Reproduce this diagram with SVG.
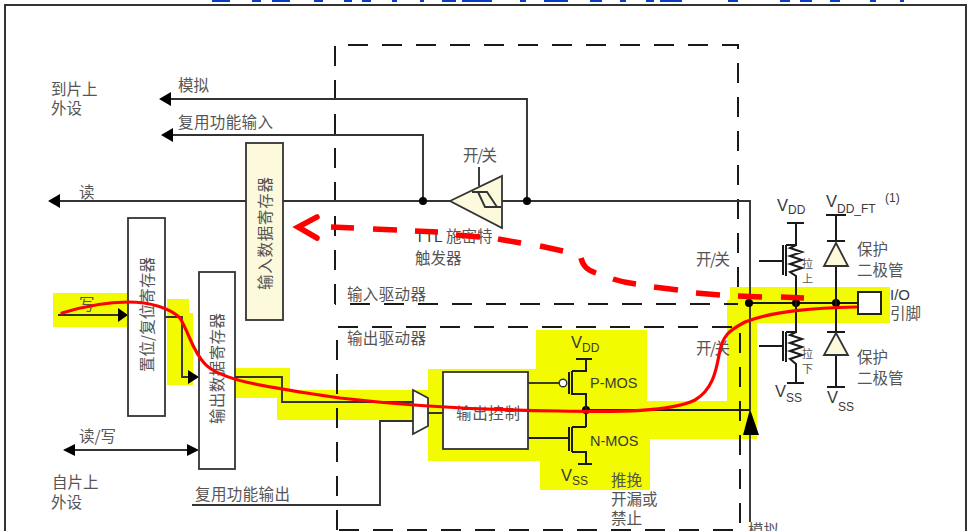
<svg xmlns="http://www.w3.org/2000/svg" width="969" height="531" viewBox="0 0 969 531">
<style>
text{font-family:"Noto Sans CJK SC","Liberation Sans",sans-serif;font-size:15.5px;fill:#555}
.en{font-family:"Liberation Sans",Arial,sans-serif;fill:#3a3a3a}
.v{font-size:16.5px}.s{font-size:12px}
.w{fill:none;stroke:#333;stroke-width:1.9}
.k{fill:none;stroke:#1a1a1a;stroke-width:2}
.d{fill:none;stroke:#1a1a1a;stroke-width:2;stroke-dasharray:20 14}
.box{fill:#fff;stroke:#333;stroke-width:1.8}
.cream{fill:#fdf9dc;stroke:#333;stroke-width:1.8}
.a{fill:#000}
.red{fill:none;stroke:#f00;stroke-width:3.2;stroke-linecap:round}
.dash{fill:none;stroke:#f00;stroke-width:5.5}
</style>
<rect width="969" height="531" fill="#fff"/>
<path transform="scale(1,2)" d="M212,0h18v1h-18zM252,0h9v1h-9zM272,0h18v1h-18zM314,0h9v1h-9zM344,0h8v1h-8zM362,0h9v1h-9zM392,0h5v1h-5zM420,0h4v1h-4zM442,0h14v1h-14zM462,0h30v1h-30zM520,0h6v1h-6zM544,0h24v1h-24zM590,0h12v1h-12zM620,0h6v1h-6zM646,0h8v1h-8zM660,0h22v1h-22zM728,0h10v1h-10zM780,0h10v1h-10zM800,0h12v1h-12zM830,0h10v1h-10zM870,0h6v1h-6zM900,0h4v1h-4z" fill="#0a3cc8"/>
<path id="frame" d="M5,535V5H966V535" fill="none" stroke="#333" stroke-width="2"/>
<g id="highlight" fill="#f2fb00">
<path d="M53,293H127V327H53Z"/>
<path d="M167,299H189V313H193V385H167Z"/>
<path d="M236,368H290V390H428V369H536V330H647V401H727V300H730V287H890V323H757V439H650V490H540V461H428V420H277V398H236Z"/>
</g>
<g id="drivers">
<path class="d" d="M335,304V45H738V290"/>
<path class="d" d="M738,304H335" stroke-dashoffset="6"/>
<path class="d" d="M337,530V327H740V530H337"/>
</g>
<g id="connectors">
<path class="w" d="M170,99H527V201"/>
<path class="w" d="M172,135H423V201"/>
<path class="w" d="M60,201H246M283,201H450M502,201H750V410"/>
<path class="k" d="M586,410H750"/>
<path class="w" d="M750,430V522"/>
<path class="k" d="M749,303H858"/>
<path class="w" d="M58,315H120M165,317H182V377H190M235,377H282V402H413M192,505H380V421H413M428,413H443"/>
<path class="w" d="M70,450H190"/>
<path class="w" d="M528,383H560"/>
<path class="k" d="M528,438H568"/>
<path class="a" d="M48,201L60,194V208ZM159,99L171,92V106ZM161,135L173,128V142ZM128,315L118,308V322ZM199,377L188,370V384ZM63,450L75,444V456ZM199,450L187,444V456ZM750,409L759,435H743Z"/>
<circle class="a" cx="423" cy="201" r="4"/>
<circle class="a" cx="527" cy="201" r="4"/>
<circle class="a" cx="586" cy="410" r="4"/>
<circle class="a" cx="749" cy="303" r="4"/>
<circle class="a" cx="796" cy="303" r="4"/>
<circle class="a" cx="836" cy="303" r="4"/>
</g>
<g id="input-data-register">
<rect class="cream" x="246" y="143" width="37" height="177"/>
<text transform="translate(271,290) rotate(-90)" textLength="113">输入数据寄存器</text>
</g>
<g id="set-reset-register">
<rect class="box" x="128" y="218" width="37" height="198"/>
<text transform="translate(153,372) rotate(-90)" textLength="115">置位/复位寄存器</text>
</g>
<g id="output-data-register">
<rect class="box" x="199" y="272" width="36" height="197"/>
<text transform="translate(223,424) rotate(-90)" textLength="111">输出数据寄存器</text>
</g>
<g id="schmitt">
<path class="w" d="M479,167V186"/>
<path class="cream" d="M450,201L502,176V228Z"/>
<path class="w" d="M472,192H487L497,207H485L478,192M497,207H501"/>
<text x="463" y="161" textLength="34">开/关</text>
<text x="415" y="242"><tspan class="en">TTL</tspan> 施密特<tspan x="415" dy="22">触发器</tspan></text>
</g>
<g id="mux"><path class="box" d="M413,390L428,398V426L413,434Z"/></g>
<g id="output-control">
<rect class="box" x="443" y="372" width="85" height="77"/>
<text x="456" y="419" textLength="64">输出控制</text>
</g>
<g id="p-mos">
<circle cx="563" cy="383" r="3.8" fill="#fff" stroke="#333" stroke-width="1.4"/>
<path class="k" d="M569,372V394M572,371V395M572,371H586V359M576,359H592M572,394H586V427"/>
</g>
<g id="n-mos">
<path class="k" d="M569,427V451M572,427V452M572,427H586M572,452H586V464M578,464H592"/>
</g>
<g id="pull-up">
<path class="k" d="M787,223H804M796,223V245H786M786,245V276M783,245V275M759,261H783"/>
<path class="k" d="M796,245L790,248L802,252L790,256L802,260L790,264L802,268L790,272L796,276V303"/>
</g>
<g id="pull-down">
<path class="k" d="M796,303V332H786M786,332V362M783,331V361M759,346H783"/>
<path class="k" d="M796,332L790,335L802,339L790,343L802,347L790,351L802,355L790,359L796,364V383M787,383H804"/>
</g>
<g id="diode-top">
<path class="k" d="M826,215H846M836,215V241M827,241H845M836,266V303"/>
<path class="cream" d="M836,243L848,266H824Z"/>
</g>
<g id="diode-bottom">
<path class="k" d="M836,303V332M827,332H845M836,355V387M827,387H845"/>
<path class="cream" d="M836,333L848,355H824Z"/>
</g>
<g id="pin"><rect x="858" y="292" width="23" height="22" fill="#fff" stroke="#222" stroke-width="2"/></g>
<g id="labels">
<text x="51" y="95">到片上<tspan x="51" dy="19">外设</tspan></text>
<text x="178" y="91">模拟</text>
<text x="178" y="128" textLength="95">复用功能输入</text>
<text x="79" y="198">读</text>
<text x="79" y="310">写</text>
<text x="79" y="442">读/写</text>
<text x="52" y="488">自片上<tspan x="51" dy="20">外设</tspan></text>
<text x="195" y="500" textLength="95">复用功能输出</text>
<text x="347" y="300" textLength="79">输入驱动器</text>
<text x="347" y="344" textLength="79">输出驱动器</text>
<text x="696" y="265" textLength="34">开/关</text>
<text x="696" y="354" textLength="34">开/关</text>
<text x="802" y="268" style="font-size:11px">拉<tspan x="802" dy="15">上</tspan></text>
<text x="802" y="358" style="font-size:11px">拉<tspan x="802" dy="15">下</tspan></text>
<text x="857" y="255">保护<tspan x="857" dy="21">二极管</tspan></text>
<text x="857" y="363">保护<tspan x="857" dy="21">二极管</tspan></text>
<text class="en" x="890" y="300" style="font-size:15px">I/O</text>
<text x="890" y="319">引脚</text>
<text class="en v" x="777" y="211">V</text><text class="en s" x="788" y="214">DD</text>
<text class="en v" x="826" y="207">V</text><text class="en s" x="837" y="213">DD_FT</text><text class="en s" x="885" y="202">(1)</text>
<text class="en v" x="775" y="397">V</text><text class="en s" x="786" y="402">SS</text>
<text class="en v" x="827" y="403">V</text><text class="en s" x="838" y="411">SS</text>
<text class="en v" x="571" y="348">V</text><text class="en s" x="582" y="352">DD</text>
<text class="en v" x="561" y="481">V</text><text class="en s" x="572" y="485">SS</text>
<text class="en" x="590" y="388" style="font-size:14.5px">P-MOS</text>
<text class="en" x="590" y="446" style="font-size:14.5px">N-MOS</text>
<text x="611" y="486">推挽<tspan x="611" dy="19">开漏或</tspan><tspan x="611" dy="19">禁止</tspan></text>
<text x="748" y="536">模拟</text>
</g>
<g id="red-paths">
<path class="red" d="M62,313C85,306 110,302 128,302C150,302 170,308 180,318C190,335 192,350 205,364C220,380 260,386 340,398C400,405 470,410 560,411C620,412 670,412 695,400C712,390 716,372 719,355C722,335 730,330 745,322C775,310 820,308 856,307"/>
<path class="dash" d="M331,227L354,228M373,229L397,230M415,231L438,232M456,235L480,237M498,239L521,243M540,246L563,251M581,258C583,266 587,270 596,273M613,279C622,282 628,283 636,284M654,287L678,290M696,293L720,295M738,296L762,297M781,297L804,298"/>
<path class="dash" d="M317,217L298,227L317,238" stroke-linecap="round" stroke-linejoin="miter"/>
</g>
</svg>
